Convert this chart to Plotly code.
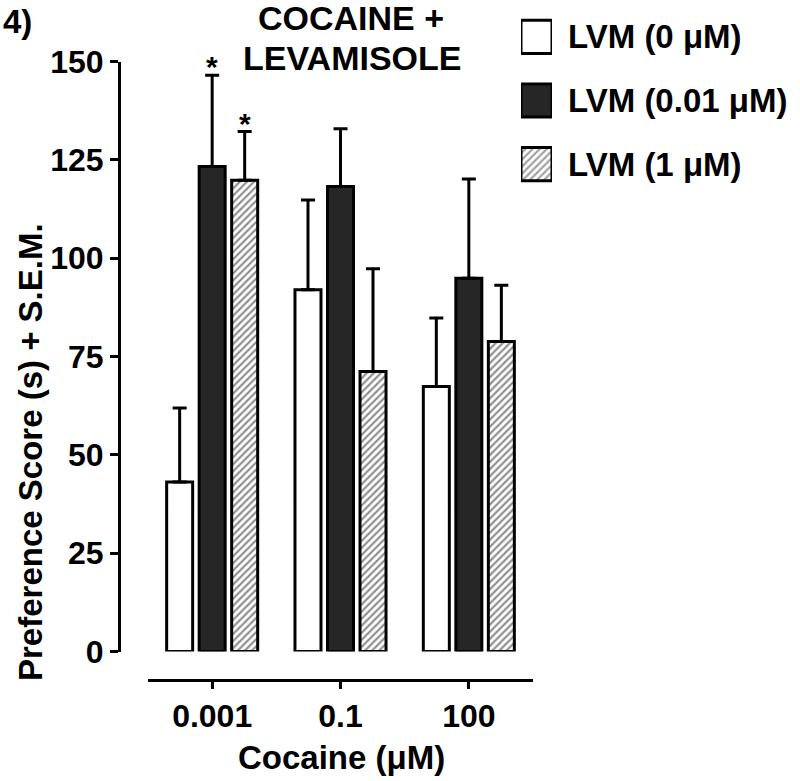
import plotly.graph_objects as go

# Cocaine + levamisole: preference score per cocaine dose
cocaine = ["0.001", "0.1", "100"]
series = ["LVM (0 μM)", "LVM (0.01 μM)", "LVM (1 μM)"]
score_0 = [43.1, 92.0, 67.4]
score_001 = [123.3, 118.2, 94.9]
score_1 = [119.8, 71.2, 78.8]
sem_0 = [18.8, 22.8, 17.4]
sem_001 = [23.2, 14.7, 25.2]
sem_1 = [12.4, 26.1, 14.3]
y_ticks = [0, 25, 50, 75, 100, 125, 150]
stars = [("0.001", 1), ("0.001", 2)]  # (group, series index)

W, H = 800, 781
FONT = "Liberation Sans, Arial, sans-serif"
DARK = "#262626"
BARGAP, GROUPGAP = 0.24, 0.2
HATCH = dict(shape="/", fgcolor="#222222", bgcolor="white", size=5, solidity=0.45)

styles = [
    dict(color="white", pattern=dict(shape="")),
    dict(color=DARK, pattern=dict(shape="")),
    dict(color="white", pattern=HATCH),
]

fig = go.Figure()
for name, vals, err, st in zip(series, [score_0, score_001, score_1],
                               [sem_0, sem_001, sem_1], styles):
    fig.add_trace(go.Bar(
        x=cocaine, y=vals, name=name, showlegend=False,
        marker=dict(color=st["color"], pattern=st["pattern"],
                    line=dict(color="black", width=3)),
        error_y=dict(type="data", symmetric=False, array=err,
                     arrayminus=[0] * len(err), color="black",
                     thickness=3, width=7),
    ))

# legend swatches as a small bar subplot, labels as its tick labels
fig.add_trace(go.Bar(
    x=[1] * len(series), y=series, orientation="h", width=0.52,
    xaxis="x2", yaxis="y2", showlegend=False,
    marker=dict(color=[s["color"] for s in styles],
                pattern=dict(shape=[s["pattern"]["shape"] for s in styles],
                             fgcolor=HATCH["fgcolor"], bgcolor="white",
                             size=HATCH["size"], solidity=HATCH["solidity"]),
                line=dict(color="black", width=3)),
    hoverinfo="skip",
))

x_dom = [148 / W, 533 / W]
fig.update_layout(
    width=W, height=H,
    margin=dict(l=0, r=0, t=0, b=0),
    paper_bgcolor="white", plot_bgcolor="rgba(0,0,0,0)",
    barmode="group", bargap=BARGAP, bargroupgap=GROUPGAP,
    font=dict(family=FONT, color="black", size=32, weight="bold"),
    xaxis=dict(domain=x_dom, type="category", range=[-0.5, 2.5],
               anchor="free", position=1 - 680 / H,
               showline=True, linewidth=3, linecolor="black",
               ticks="outside", ticklen=7, tickwidth=3, tickcolor="black",
               showgrid=False, zeroline=False, automargin=False,
               tickfont=dict(size=32, weight="bold")),
    yaxis=dict(domain=[1 - 651.5 / H, 1 - 61.5 / H], range=[0, 150],
               anchor="free", position=119 / W,
               tickvals=y_ticks, showline=True, linewidth=3, linecolor="black",
               ticks="outside", ticklen=8, tickwidth=3, tickcolor="black",
               showgrid=False, zeroline=False, automargin=False,
               tickfont=dict(size=32, weight="bold")),
    xaxis2=dict(domain=[521 / W, 552 / W], range=[0, 1], anchor="y2",
                visible=False, fixedrange=True),
    yaxis2=dict(domain=[1 - 196 / H, 1 - 5 / H], type="category",
                autorange="reversed", anchor="x2", side="right",
                showline=False, ticks="", showgrid=False, zeroline=False,
                ticklabelstandoff=15, automargin=False,
                tickfont=dict(size=33, weight="bold")),
)

# significance stars above the error bars
plot_w = (x_dom[1] - x_dom[0]) * W
slot = plot_w / len(cocaine) * (1 - BARGAP) / len(series)
all_vals = [score_0, score_001, score_1]
all_err = [sem_0, sem_001, sem_1]
for grp, si in stars:
    gi = cocaine.index(grp)
    fig.add_annotation(x=grp, y=all_vals[si][gi] + all_err[si][gi],
                       xref="x", yref="y", text="*", showarrow=False,
                       xshift=(si - 1) * slot, yanchor="bottom", yshift=-10,
                       font=dict(size=30, weight="bold"))

ann = dict(showarrow=False, xref="paper", yref="paper")
fig.add_annotation(text="COCAINE +", x=351 / W, y=1 - 18 / H, xanchor="center",
                   yanchor="middle", font=dict(size=34, weight="bold"), **ann)
fig.add_annotation(text="LEVAMISOLE", x=352 / W, y=1 - 57.5 / H, xanchor="center",
                   yanchor="middle", font=dict(size=34, weight="bold"), **ann)
fig.add_annotation(text="4)", x=1 / W, y=1 - 1 / H, xanchor="left", yanchor="top",
                   font=dict(size=33, weight="bold"), **ann)
fig.add_annotation(text="Cocaine (μM)", x=341 / W, y=1 - 757 / H,
                   xanchor="center", yanchor="middle",
                   font=dict(size=33, weight="bold"), **ann)
fig.add_annotation(text="Preference Score (s) + S.E.M.", x=30 / W, y=1 - 452 / H,
                   xanchor="center", yanchor="middle", textangle=-90,
                   font=dict(size=33, weight="bold"), **ann)

# drop the browser's default body margin so the figure sits at the page corner
fig.write_html("out.html", config={"displayModeBar": False},
               post_script="document.body.style.margin = '0';")
